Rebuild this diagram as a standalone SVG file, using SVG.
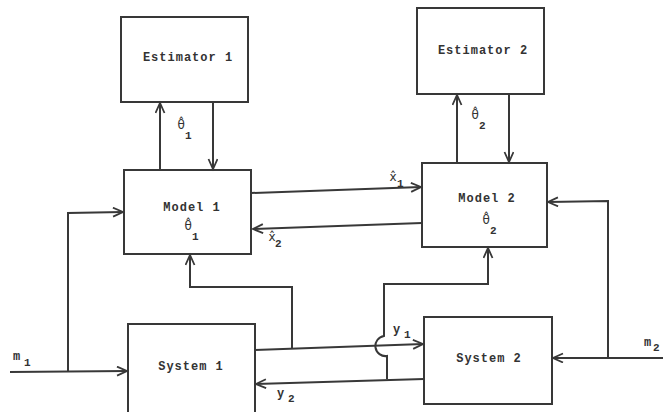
<svg xmlns="http://www.w3.org/2000/svg" width="663" height="412" viewBox="0 0 663 412">
<style>
.box{fill:none;stroke:#383838;stroke-width:2}
.ln{fill:none;stroke:#383838;stroke-width:2;stroke-linejoin:miter}
.arr{marker-end:url(#ah)}
text{font-family:"Liberation Mono","DejaVu Sans Mono",monospace;font-weight:bold;fill:#333;font-size:12px;letter-spacing:1px}
.lbl{text-anchor:middle}
.sub{font-size:11px}
.g{font-family:"DejaVu Sans",sans-serif;letter-spacing:0;font-weight:normal}
</style>
<defs>
<marker id="ah" markerUnits="userSpaceOnUse" markerWidth="14" markerHeight="12" refX="11" refY="5" orient="auto">
<path d="M1,0.5 L11,5 L1,9.5" fill="none" stroke="#383838" stroke-width="1.8"/>
</marker>
</defs>
<rect width="663" height="412" fill="#fff"/>

<g id="estimator1"><rect class="box" x="121" y="17" width="127" height="85"/><text class="lbl" x="188" y="61">Estimator 1</text></g>
<g id="estimator2"><rect class="box" x="417" y="8" width="127" height="86"/><text class="lbl" x="483" y="54">Estimator 2</text></g>
<g id="model1"><rect class="box" x="124" y="170" width="127" height="84"/><text class="lbl" x="192" y="211">Model 1</text><text class="g" x="184.5" y="230">θ̂</text><text class="sub" x="192" y="240">1</text></g>
<g id="model2"><rect class="box" x="422" y="163" width="125" height="84"/><text class="lbl" x="487" y="202">Model 2</text><text class="g" x="482.5" y="224">θ̂</text><text class="sub" x="490" y="234">2</text></g>
<g id="system1"><rect class="box" x="128" y="324" width="127" height="92"/><text class="lbl" x="191" y="370">System 1</text></g>
<g id="system2"><rect class="box" x="424" y="317" width="128" height="87"/><text class="lbl" x="489" y="362">System 2</text></g>

<g id="connectors">
<path class="ln arr" d="M160,170 V103"/>
<path class="ln arr" d="M213,102 V169"/>
<path class="ln arr" d="M457,163 V95"/>
<path class="ln arr" d="M509,94 V162"/>
<path class="ln arr" d="M251,193 L421,187"/>
<path class="ln arr" d="M422,223 L253,229"/>
<path class="ln arr" d="M10,372 L127,371"/>
<path class="ln arr" d="M68,372 V213 L123,212"/>
<path class="ln arr" d="M663,358 L553,358"/>
<path class="ln arr" d="M608,358 V201 L548,202"/>
<path class="ln arr" d="M255,350 L423,344"/>
<path class="ln arr" d="M292,349 V287 H190 V255"/>
<path class="ln arr" d="M424,379 L256,384"/>
<path class="ln arr" d="M387,379 V356 A10,10 0 0 1 384,336 V284 H488 V248"/>
</g>

<g id="labels">
<text class="g" x="177.5" y="129">θ̂</text><text class="sub" x="185" y="139">1</text>
<text class="g" x="471.5" y="119">θ̂</text><text class="sub" x="479" y="129">2</text>
<text class="g" x="389.5" y="181">x̂</text><text class="sub" x="397" y="187">1</text>
<text class="g" x="268.5" y="241">x̂</text><text class="sub" x="275" y="247">2</text>
<text x="13" y="360">m</text><text class="sub" x="24" y="366">1</text>
<text x="644" y="346">m</text><text class="sub" x="653" y="351">2</text>
<text x="393" y="333">y</text><text class="sub" x="404" y="338">1</text>
<text x="277" y="397">y</text><text class="sub" x="288" y="402">2</text>
</g>
</svg>
